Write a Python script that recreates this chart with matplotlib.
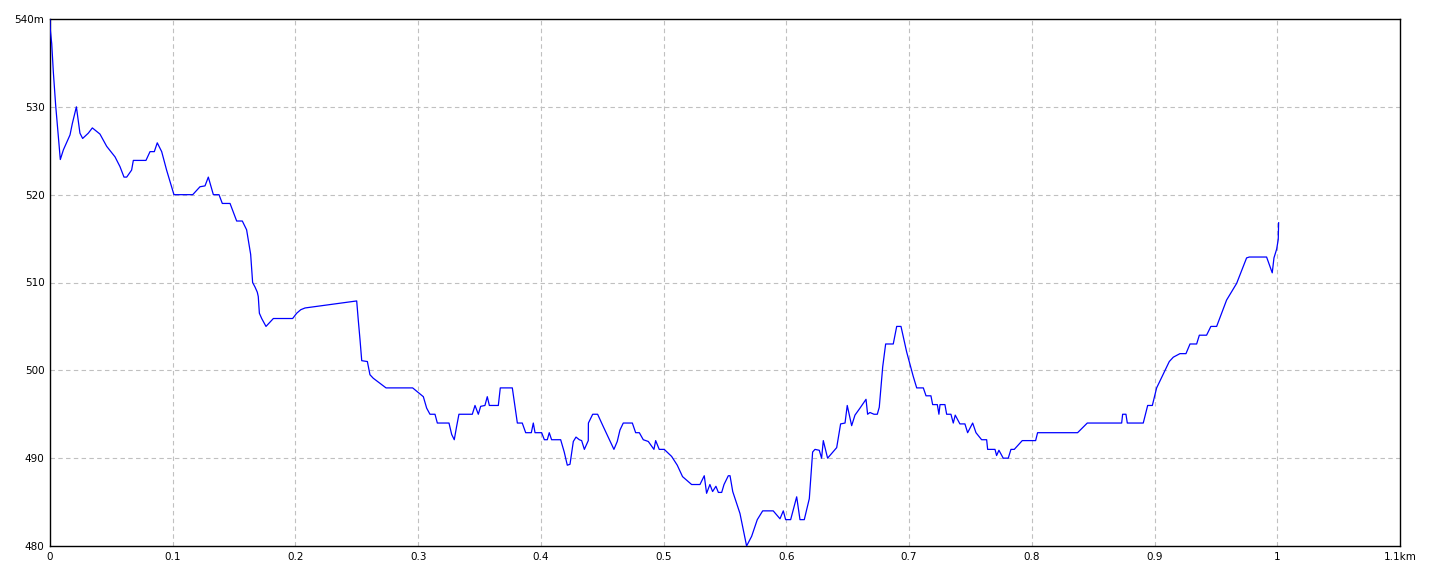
import matplotlib
matplotlib.use("Agg")
import matplotlib.pyplot as plt

# elevation profile, distance in km, elevation in m
dist = [0.0, 0.0003, 0.0014, 0.0027, 0.0046, 0.0068, 0.0084, 0.0109, 0.0163, 0.0182,
        0.0215, 0.0244, 0.0266, 0.0312, 0.0345, 0.0407, 0.0462, 0.053, 0.057, 0.0603,
        0.0625, 0.0665, 0.0679, 0.0782, 0.0815, 0.085, 0.0874, 0.091, 0.095, 0.0978,
        0.101, 0.1163, 0.1222, 0.1263, 0.129, 0.1331, 0.1377, 0.1404, 0.1467, 0.1521,
        0.1567, 0.1602, 0.1635, 0.1651, 0.167, 0.1689, 0.1697, 0.1706, 0.1725, 0.176,
        0.182, 0.1977, 0.201, 0.2043, 0.2078, 0.2499, 0.2512, 0.2526, 0.254, 0.2586,
        0.2607, 0.2634, 0.2738, 0.2955, 0.3042, 0.3069, 0.3096, 0.3137, 0.3156, 0.3251,
        0.3273, 0.3294, 0.3313, 0.3332, 0.3441, 0.3463, 0.349, 0.3509, 0.3544, 0.3563,
        0.358, 0.3653, 0.3669, 0.3767, 0.3789, 0.3808, 0.3848, 0.3876, 0.3922, 0.3938,
        0.3952, 0.4006, 0.4028, 0.4052, 0.4068, 0.4087, 0.4161, 0.419, 0.4215, 0.4237,
        0.4264, 0.4286, 0.4313, 0.4332, 0.4354, 0.4386, 0.4387, 0.4422, 0.4462, 0.4508,
        0.4595, 0.4622, 0.4644, 0.4671, 0.4745, 0.4772, 0.4802, 0.4834, 0.4875, 0.4921,
        0.4935, 0.4964, 0.5005, 0.5065, 0.5111, 0.5154, 0.5228, 0.5296, 0.5331, 0.535,
        0.5377, 0.5399, 0.5426, 0.5446, 0.5473, 0.5492, 0.5527, 0.5541, 0.5563, 0.5622,
        0.5676, 0.5717, 0.5763, 0.5807, 0.5893, 0.5948, 0.5975, 0.5994, 0.6035, 0.6084,
        0.6111, 0.6146, 0.6187, 0.6214, 0.6233, 0.6268, 0.6287, 0.6301, 0.6336, 0.641,
        0.6442, 0.6478, 0.6496, 0.6532, 0.6559, 0.66, 0.6649, 0.6662, 0.6681, 0.6714,
        0.6741, 0.6757, 0.6785, 0.6809, 0.6871, 0.6899, 0.6934, 0.698, 0.7034, 0.7062,
        0.7116, 0.7138, 0.7178, 0.7192, 0.723, 0.7243, 0.7252, 0.7292, 0.7306, 0.7341,
        0.736, 0.7376, 0.7414, 0.7455, 0.7477, 0.7518, 0.7545, 0.7591, 0.7632, 0.764,
        0.77, 0.7713, 0.7732, 0.7767, 0.7808, 0.783, 0.7857, 0.7922, 0.8031, 0.8047,
        0.8373, 0.8452, 0.8732, 0.874, 0.8767, 0.8778, 0.8908, 0.8944, 0.8982, 0.9017,
        0.9085, 0.912, 0.9153, 0.9207, 0.9256, 0.9289, 0.9343, 0.9365, 0.9424, 0.9459,
        0.9506, 0.9587, 0.9669, 0.975, 0.9772, 0.9913, 0.9959, 0.9973, 0.9995, 1.0008,
        1.0011]
elev = [539.9, 538.7, 537.2, 534.0, 530.2, 526.6, 524.0, 525.1, 526.8, 528.1,
        530.0, 527.0, 526.4, 527.0, 527.6, 526.9, 525.5, 524.3, 523.2, 522.0,
        522.0, 522.8, 523.9, 523.9, 524.9, 524.9, 525.9, 524.9, 522.8, 521.5,
        520.0, 520.0, 520.9, 521.0, 522.0, 520.0, 520.0, 519.0, 519.0, 517.0,
        517.0, 516.0, 513.2, 510.0, 509.5, 508.9, 508.4, 506.5, 505.9, 505.0,
        505.9, 505.9, 506.5, 506.9, 507.1, 507.9, 505.7, 503.5, 501.1, 501.0,
        499.5, 499.1, 498.0, 498.0, 497.0, 495.7, 495.0, 495.0, 494.0, 494.0,
        492.7, 492.1, 493.6, 495.0, 495.0, 496.0, 495.0, 495.9, 496.0, 497.0,
        496.0, 496.0, 498.0, 498.0, 495.9, 494.0, 494.0, 492.9, 492.9, 494.0,
        492.9, 492.9, 492.1, 492.1, 492.9, 492.1, 492.1, 490.7, 489.2, 489.3,
        491.9, 492.4, 492.1, 492.0, 491.0, 492.0, 494.0, 495.0, 495.0, 493.6,
        491.0, 491.9, 493.2, 494.0, 494.0, 492.9, 492.9, 492.1, 491.9, 491.0,
        492.0, 491.0, 491.0, 490.2, 489.2, 487.9, 487.0, 487.0, 488.0, 486.0,
        487.0, 486.2, 486.8, 486.1, 486.1, 487.0, 488.0, 488.0, 486.2, 483.7,
        480.0, 481.1, 483.0, 484.0, 484.0, 483.1, 484.0, 483.0, 483.0, 485.6,
        483.0, 483.0, 485.4, 490.7, 491.0, 490.9, 490.0, 492.0, 490.0, 491.2,
        493.9, 494.0, 496.0, 493.7, 494.9, 495.7, 496.7, 495.0, 495.2, 495.0,
        495.0, 495.8, 500.4, 503.0, 503.0, 505.0, 505.0, 502.1, 499.3, 498.0,
        498.0, 497.1, 497.1, 496.1, 496.1, 495.0, 496.1, 496.1, 495.0, 495.0,
        494.0, 494.9, 493.9, 493.9, 492.9, 494.0, 492.9, 492.1, 492.1, 491.0,
        491.0, 490.3, 490.9, 490.0, 490.0, 491.0, 491.0, 492.0, 492.0, 492.9,
        492.9, 494.0, 494.0, 495.0, 495.0, 494.0, 494.0, 496.0, 496.0, 498.0,
        500.0, 501.0, 501.5, 501.9, 501.9, 503.0, 503.0, 504.0, 504.0, 505.0,
        505.0, 508.0, 509.9, 512.8, 512.9, 512.9, 511.1, 512.8, 513.8, 514.9,
        516.8]

xticks = [0, 0.1, 0.2, 0.3, 0.4, 0.5, 0.6, 0.7, 0.8, 0.9, 1.0, 1.1]
xlabels = ["0", "0.1", "0.2", "0.3", "0.4", "0.5", "0.6", "0.7", "0.8", "0.9", "1", "1.1km"]
yticks = [480, 490, 500, 510, 520, 530, 540]
ylabels = ["480", "490", "500", "510", "520", "530", "540m"]

fig = plt.figure(figsize=(14.4, 5.76), dpi=100)
ax = fig.add_axes([50 / 1440, 1 - 546 / 576, 1350 / 1440, 527 / 576])

for x in xticks[1:-1]:
    ax.axvline(x, color="#c0c0c0", lw=0.8, ls=(0, (4, 3)), zorder=1)
for y in yticks[1:-1]:
    ax.axhline(y, color="#c0c0c0", lw=0.8, ls=(0, (4, 3)), zorder=1)

ax.plot(dist, elev, color="#0000ff", lw=0.9, zorder=3)

ax.set_xlim(0, 1.1)
ax.set_ylim(480, 540)
ax.set_xticks(xticks)
ax.set_xticklabels(xlabels)
ax.set_yticks(yticks)
ax.set_yticklabels(ylabels)
ax.tick_params(length=0, labelsize=7.5, pad=4)
for s in ax.spines.values():
    s.set_linewidth(1.0)
    s.set_color("black")

fig.savefig("out.png", dpi=100)
